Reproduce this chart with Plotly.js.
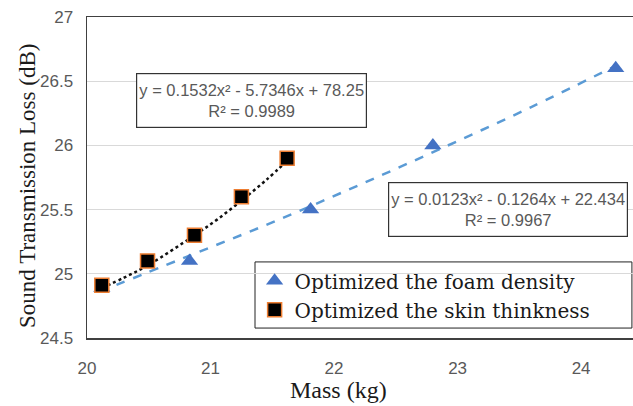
<!DOCTYPE html>
<html>
<head>
<meta charset="utf-8">
<script src="https://cdn.plot.ly/plotly-3.0.1.min.js"></script>
<style>html,body{margin:0;padding:0;background:#fff;}#chart{width:633px;height:406px;}</style>
</head>
<body>
<div id="chart"></div>
<script>
// Data
const foamMass = [20.12, 20.83, 21.81, 22.80, 24.28];
const foamSTL  = [24.89, 25.10, 25.50, 26.00, 26.60];
const skinMass = [20.12, 20.49, 20.87, 21.25, 21.62];
const skinSTL  = [24.91, 25.10, 25.30, 25.60, 25.90];
// Trendline points
const foamTrendX = [20.10, 20.80, 21.50, 22.20, 22.90, 23.60, 24.28];
const foamTrendY = [24.86, 25.13, 25.40, 25.69, 25.99, 26.30, 26.62];
const skinTrendX = [20.12, 20.30, 20.50, 20.87, 21.05, 21.25, 21.45, 21.62];
const skinTrendY = [24.89, 24.97, 25.07, 25.30, 25.42, 25.57, 25.73, 25.88];
const legendNames = ["Optimized the foam density", "Optimized the skin thinkness"];
const eqFoam = "y = 0.0123x² - 0.1264x + 22.434<br>R² = 0.9967";
const eqSkin = "y = 0.1532x² - 5.7346x + 78.25<br>R² = 0.9989";
const xTicks = [20, 21, 22, 23, 24];
const yTicks = [24.5, 25, 25.5, 26, 26.5, 27];

const serif = "Liberation Serif, Times New Roman, serif";
const legendSerif = "DejaVu Serif, serif";
const sans = "Liberation Sans, Arial, sans-serif";

const traces = [
  {x: foamTrendX, y: foamTrendY, mode: "lines", line: {color: "#5B9BD5", width: 2.5, dash: "dash", shape: "spline"}, showlegend: false, hoverinfo: "skip"},
  {x: skinTrendX, y: skinTrendY, mode: "lines", line: {color: "#111111", width: 2.5, dash: "dot", shape: "spline"}, showlegend: false, hoverinfo: "skip"},
  {x: foamMass, y: foamSTL, mode: "markers", name: legendNames[0],
   marker: {symbol: "triangle-up", size: 15, color: "#4472C4", line: {width: 0}}},
  {x: skinMass, y: skinSTL, mode: "markers", name: legendNames[1],
   marker: {symbol: "square", size: 14, color: "#000000", line: {width: 1.5, color: "#ED7D31"}}}
];

const layout = {
  width: 633, height: 406,
  margin: {l: 87, r: 0, t: 17, b: 68},
  paper_bgcolor: "#fff", plot_bgcolor: "#fff",
  showlegend: true,
  legend: {
    x: 0.307, xanchor: "left", y: 0.239, yanchor: "top",
    borderwidth: 0, bgcolor: "rgba(0,0,0,0)",
    font: {family: legendSerif, size: 20, color: "#1a1a1a"},
    tracegroupgap: 0, itemwidth: 30
  },
  shapes: [
    {type: "rect", xref: "paper", yref: "paper", x0: 0.3077, x1: 0.998, y0: 0.031, y1: 0.237,
     line: {color: "#222", width: 1}, fillcolor: "#fff", layer: "below"}
  ],
  xaxis: {
    range: [20, 24.42], tickvals: xTicks, ticktext: xTicks.map(String),
    showgrid: false, zeroline: false,
    showline: true, mirror: true, linecolor: "#404040", linewidth: 1.5,
    ticks: "", ticklabelstandoff: 14,
    tickfont: {family: sans, size: 17, color: "#595959"}
  },
  yaxis: {
    range: [24.5, 27], tickvals: yTicks, ticktext: yTicks.map(String),
    showgrid: true, gridcolor: "#d9d9d9", gridwidth: 1, zeroline: false,
    showline: true, linecolor: "#404040", linewidth: 1.5,
    ticks: "", ticklabelstandoff: 9,
    tickfont: {family: sans, size: 17, color: "#595959"}
  },
  annotations: [
    {xref: "paper", yref: "paper", x: -0.11, y: 0.4735, text: "Sound Transmission Loss (dB)", textangle: -90,
     showarrow: false, font: {family: serif, size: 23, color: "#1a1a1a"}, xanchor: "center", yanchor: "middle"},
    {xref: "paper", yref: "paper", x: 0.46, y: -0.162, text: "Mass (kg)",
     showarrow: false, font: {family: serif, size: 24, color: "#1a1a1a"}, xanchor: "center", yanchor: "middle"},
    {xref: "x", yref: "y", x: 21.33, y: 26.35, text: eqSkin, showarrow: false,
     font: {family: sans, size: 16.5, color: "#595959"}, bordercolor: "#333", borderwidth: 1.2, bgcolor: "#fff",
     width: 227, height: 51, align: "center"},
    {xref: "x", yref: "y", x: 23.41, y: 25.50, text: eqFoam, showarrow: false,
     font: {family: sans, size: 16.5, color: "#595959"}, bordercolor: "#333", borderwidth: 1.2, bgcolor: "#fff",
     width: 236, height: 51, align: "center"}
  ]
};

Plotly.newPlot("chart", traces, layout, {displayModeBar: false, staticPlot: true});
</script>
</body>
</html>
